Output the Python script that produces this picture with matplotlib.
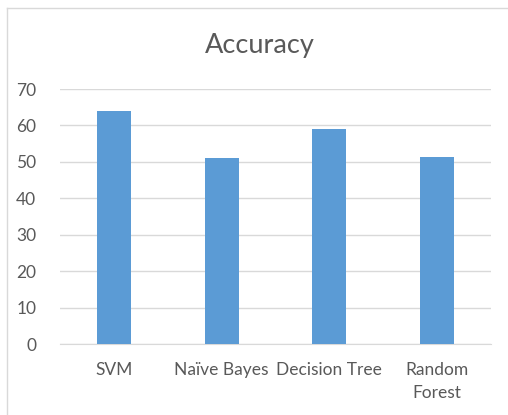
import matplotlib.pyplot as plt
from matplotlib.lines import Line2D

categories = ['SVM', 'Naïve Bayes', 'Decision Tree', 'Random\nForest']
accuracy = [64, 51, 59, 51.4]

plt.rcParams['font.family'] = ['Lato', 'DejaVu Sans']
text_color = '#595959'

fig = plt.figure(figsize=(5.08, 4.15), dpi=100)
ax = fig.add_axes([60 / 508, 71 / 415, 431 / 508, 255 / 415])

x = range(len(categories))
ax.bar(x, accuracy, width=0.315, color='#5b9bd5', zorder=3)

ax.set_xlim(-0.5, len(categories) - 0.5)
ax.set_ylim(0, 70)
ax.set_yticks(range(0, 71, 10))
ax.set_xticks(list(x))
ax.set_xticklabels(categories, linespacing=1.55)
ax.tick_params(axis='y', length=0, pad=17, labelsize=12.5, labelcolor=text_color)
ax.tick_params(axis='x', length=0, pad=13, labelsize=12.5, labelcolor=text_color)
for lbl in ax.get_xticklabels():
    lbl.set_verticalalignment('top')

ax.grid(axis='y', color='#d9d9d9', linewidth=1, zorder=0)
for side in ['top', 'right', 'left']:
    ax.spines[side].set_visible(False)
ax.spines['bottom'].set_color('#d9d9d9')

fig.text(260 / 508, 1 - 46 / 415, 'Accuracy', ha='center', va='center',
         fontsize=19.5, color=text_color)

# outer chart frame: only top and left edges are visible in the crop
fig.add_artist(Line2D([7 / 508, 1], [1 - 8 / 415, 1 - 8 / 415],
                      transform=fig.transFigure, color='#d9d9d9', linewidth=1))
fig.add_artist(Line2D([7 / 508, 7 / 508], [0, 1 - 8 / 415],
                      transform=fig.transFigure, color='#d9d9d9', linewidth=1))

fig.savefig('out.png', dpi=100)
